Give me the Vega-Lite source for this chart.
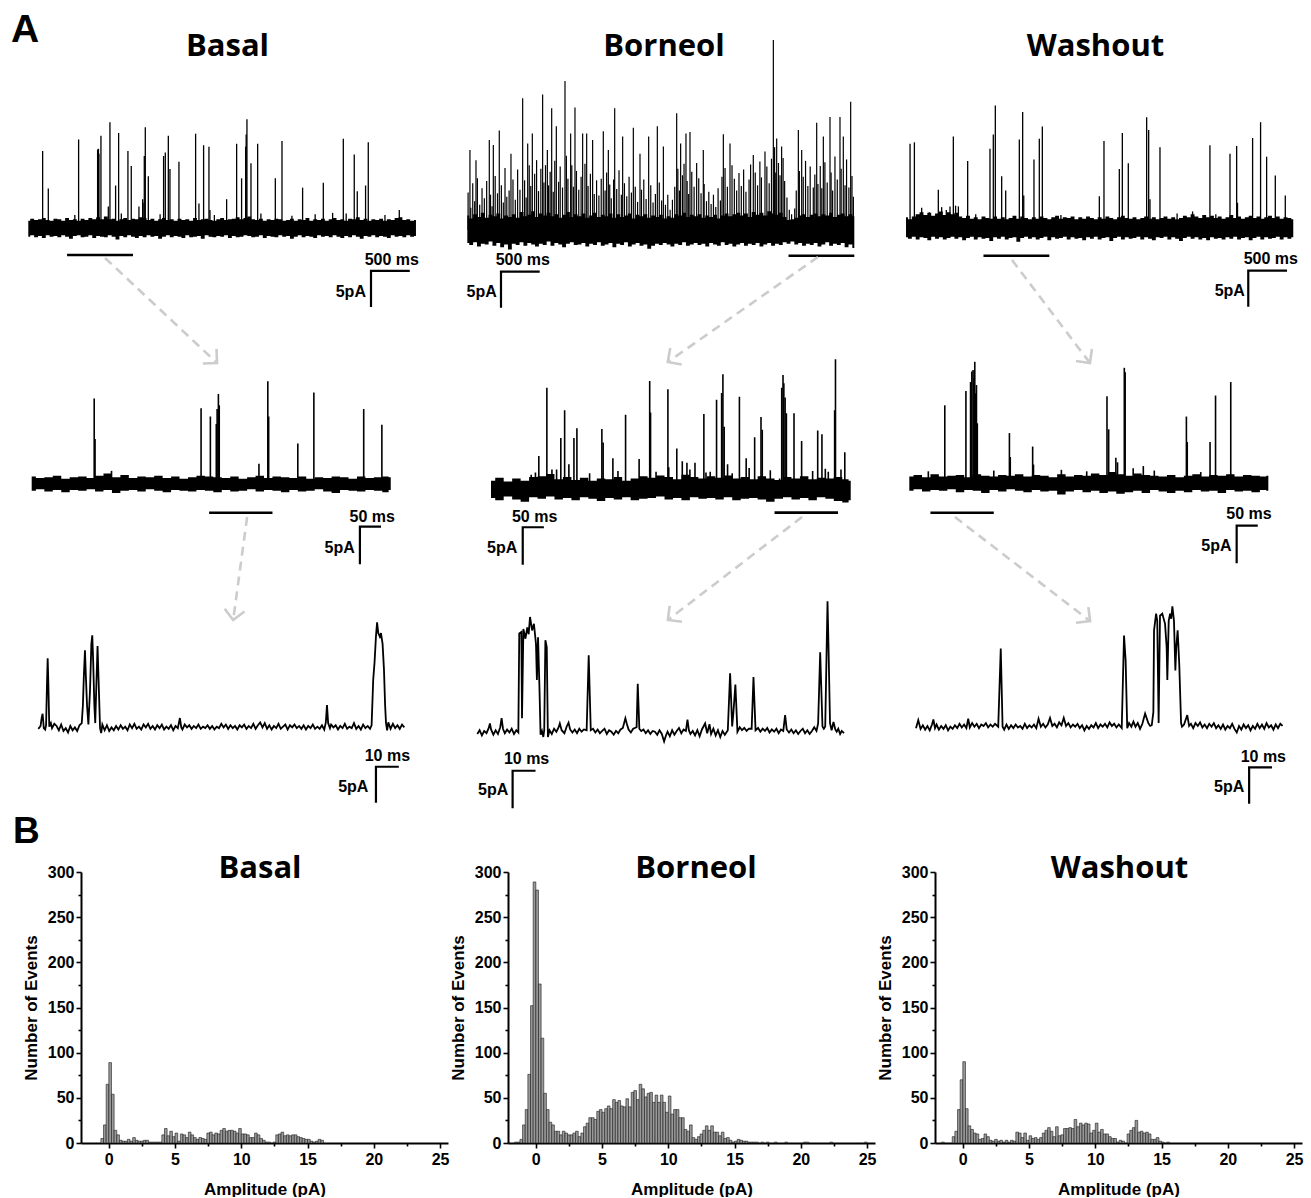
{
"$schema": "https://vega.github.io/schema/vega-lite/v6.json",
"padding": 0,
"background": "white",
"config": {
  "view": {"stroke": null},
  "axis": {"labelFont": "Liberation Sans", "labelFontWeight": "bold", "labelFontSize": 16, "labelColor": "black", "titleFont": "Liberation Sans", "titleFontWeight": "bold", "titleFontSize": 17, "titleColor": "black", "domainColor": "black", "domainWidth": 2, "tickColor": "black", "tickWidth": 1.6, "tickSize": 5, "grid": false}
},
"title": {"text": "A", "anchor": "start", "frame": "group", "font": "Liberation Sans", "fontSize": 39, "fontWeight": "bold", "color": "black", "offset": -50, "dx": 11},
"datasets": {
"b1b": [{"t":0,"l":-1.2,"h":1.0},{"t":50,"l":-1.0,"h":1.3},{"t":100,"l":-1.3,"h":1.1},{"t":150,"l":-1.1,"h":1.2},{"t":200,"l":-1.4,"h":1.4},{"t":250,"l":-1.0,"h":1.1},{"t":300,"l":-1.2,"h":1.0},{"t":350,"l":-1.1,"h":1.3},{"t":400,"l":-1.3,"h":1.2},{"t":450,"l":-1.0,"h":1.0},{"t":500,"l":-1.2,"h":1.4},{"t":550,"l":-1.5,"h":1.1},{"t":600,"l":-1.1,"h":1.2},{"t":650,"l":-1.0,"h":1.0},{"t":700,"l":-1.3,"h":1.3},{"t":750,"l":-1.2,"h":1.1},{"t":800,"l":-1.0,"h":1.4},{"t":850,"l":-1.4,"h":1.2},{"t":900,"l":-1.1,"h":1.5},{"t":950,"l":-1.2,"h":1.2},{"t":1000,"l":-1.3,"h":1.6},{"t":1050,"l":-1.0,"h":1.2},{"t":1100,"l":-1.2,"h":1.3},{"t":1150,"l":-1.6,"h":1.0},{"t":1200,"l":-1.1,"h":1.2},{"t":1250,"l":-1.3,"h":1.4},{"t":1300,"l":-1.0,"h":1.1},{"t":1350,"l":-1.2,"h":1.3},{"t":1400,"l":-1.4,"h":1.2},{"t":1450,"l":-1.1,"h":1.5},{"t":1500,"l":-1.3,"h":1.4},{"t":1550,"l":-1.0,"h":1.1},{"t":1600,"l":-1.2,"h":1.3},{"t":1650,"l":-1.1,"h":1.0},{"t":1700,"l":-1.5,"h":1.2},{"t":1750,"l":-1.2,"h":1.4},{"t":1800,"l":-1.0,"h":1.1},{"t":1850,"l":-1.3,"h":1.2},{"t":1900,"l":-1.1,"h":1.0},{"t":1950,"l":-1.2,"h":1.3},{"t":2000,"l":-1.4,"h":1.1},{"t":2050,"l":-1.0,"h":1.2},{"t":2100,"l":-1.3,"h":1.0},{"t":2150,"l":-1.2,"h":1.4},{"t":2200,"l":-1.1,"h":1.1},{"t":2250,"l":-1.5,"h":1.2},{"t":2300,"l":-1.0,"h":1.3},{"t":2350,"l":-1.2,"h":1.1},{"t":2400,"l":-1.3,"h":1.0},{"t":2450,"l":-1.1,"h":1.2},{"t":2500,"l":-1.2,"h":1.4},{"t":2550,"l":-1.0,"h":1.1},{"t":2600,"l":-1.4,"h":1.2},{"t":2650,"l":-1.1,"h":1.3},{"t":2700,"l":-1.3,"h":1.5},{"t":2750,"l":-1.2,"h":1.2},{"t":2800,"l":-1.0,"h":1.4},{"t":2850,"l":-1.1,"h":1.6},{"t":2900,"l":-1.3,"h":1.2},{"t":2950,"l":-1.2,"h":1.1},{"t":3000,"l":-1.0,"h":1.3},{"t":3050,"l":-1.4,"h":1.0},{"t":3100,"l":-1.1,"h":1.2},{"t":3150,"l":-1.2,"h":1.1},{"t":3200,"l":-1.3,"h":1.3},{"t":3250,"l":-1.0,"h":1.2},{"t":3300,"l":-1.2,"h":1.0},{"t":3350,"l":-1.1,"h":1.1},{"t":3400,"l":-1.5,"h":1.3},{"t":3450,"l":-1.2,"h":1.0},{"t":3500,"l":-1.0,"h":1.2},{"t":3550,"l":-1.3,"h":1.1},{"t":3600,"l":-1.1,"h":1.4},{"t":3650,"l":-1.2,"h":1.0},{"t":3700,"l":-1.4,"h":1.2},{"t":3750,"l":-1.0,"h":1.1},{"t":3800,"l":-1.2,"h":1.3},{"t":3850,"l":-1.1,"h":1.0},{"t":3900,"l":-1.3,"h":1.2},{"t":3950,"l":-1.0,"h":1.4},{"t":4000,"l":-1.2,"h":1.1},{"t":4050,"l":-1.4,"h":1.2},{"t":4100,"l":-1.1,"h":1.0},{"t":4150,"l":-1.3,"h":1.3},{"t":4200,"l":-1.0,"h":1.2},{"t":4250,"l":-1.2,"h":1.5},{"t":4300,"l":-1.5,"h":1.1},{"t":4350,"l":-1.1,"h":1.3},{"t":4400,"l":-1.2,"h":1.0},{"t":4450,"l":-1.0,"h":1.2},{"t":4500,"l":-1.3,"h":1.1},{"t":4550,"l":-1.1,"h":1.3},{"t":4600,"l":-1.2,"h":1.0},{"t":4650,"l":-1.4,"h":1.2},{"t":4700,"l":-1.0,"h":1.1},{"t":4750,"l":-1.2,"h":1.4},{"t":4800,"l":-1.1,"h":1.5},{"t":4850,"l":-1.3,"h":1.1},{"t":4900,"l":-1.0,"h":1.2},{"t":4950,"l":-1.2,"h":1.0},{"t":5000,"l":-1.1,"h":1.1}],
"b1s": [{"t":185,"a":10.7},{"t":258,"a":5.5},{"t":600,"a":1.8},{"t":649,"a":12.3},{"t":894,"a":10.9},{"t":900,"a":9.5},{"t":905,"a":11.0},{"t":911,"a":10.3},{"t":937,"a":12.8},{"t":1032,"a":3.0},{"t":1053,"a":14.7},{"t":1126,"a":5.9},{"t":1165,"a":13.2},{"t":1200,"a":2.0},{"t":1285,"a":10.7},{"t":1328,"a":8.6},{"t":1427,"a":3.0},{"t":1475,"a":4.0},{"t":1480,"a":3.5},{"t":1496,"a":10.0},{"t":1509,"a":14.0},{"t":1548,"a":7.2},{"t":1700,"a":1.9},{"t":1745,"a":10.0},{"t":1767,"a":10.5},{"t":1806,"a":12.8},{"t":1827,"a":8.2},{"t":1943,"a":9.2},{"t":2158,"a":13.1},{"t":2201,"a":3.4},{"t":2261,"a":11.5},{"t":2330,"a":11.3},{"t":2343,"a":2.5},{"t":2400,"a":1.8},{"t":2558,"a":4.0},{"t":2687,"a":11.7},{"t":2751,"a":6.9},{"t":2803,"a":11.3},{"t":2810,"a":13.0},{"t":2820,"a":15.1},{"t":2872,"a":9.0},{"t":2958,"a":11.7},{"t":3000,"a":2.0},{"t":3186,"a":6.9},{"t":3272,"a":12.1},{"t":3400,"a":1.7},{"t":3538,"a":5.6},{"t":3700,"a":1.9},{"t":3805,"a":6.3},{"t":3925,"a":2.1},{"t":4063,"a":12.4},{"t":4100,"a":2.0},{"t":4204,"a":10.2},{"t":4243,"a":5.1},{"t":4350,"a":5.9},{"t":4385,"a":11.9},{"t":4600,"a":1.8},{"t":4785,"a":2.5}],
"b1n": [{"k":"seg","t":500,"t2":1350,"v":-3.75},{"k":"L","t":4920,"v":-5.97,"o":1},{"k":"L","t":4420,"v":-5.97,"o":2},{"k":"L","t":4420,"v":-10.97,"o":3},{"k":"lab","t":5039,"v":-5.14,"s":"500 ms"},{"k":"lab","t":4355,"v":-9.58,"s":"5pA"},{"k":"arr","t":990,"v":-4.17,"o":1},{"k":"arr","t":2434,"v":-18.75,"o":2}],
"o1b": [{"t":0,"l":-1.8,"h":2.0},{"t":50,"l":-2.1,"h":1.6},{"t":100,"l":-1.7,"h":2.2},{"t":150,"l":-2.3,"h":1.8},{"t":200,"l":-1.9,"h":2.4},{"t":250,"l":-2.0,"h":1.7},{"t":300,"l":-1.6,"h":2.1},{"t":350,"l":-2.2,"h":1.9},{"t":400,"l":-1.8,"h":2.3},{"t":450,"l":-2.4,"h":1.6},{"t":500,"l":-2.0,"h":2.0},{"t":550,"l":-2.7,"h":1.8},{"t":600,"l":-1.9,"h":2.2},{"t":650,"l":-2.1,"h":1.7},{"t":700,"l":-1.7,"h":2.5},{"t":750,"l":-2.2,"h":1.9},{"t":800,"l":-1.8,"h":2.1},{"t":850,"l":-2.0,"h":2.6},{"t":900,"l":-2.3,"h":1.8},{"t":950,"l":-1.9,"h":2.3},{"t":1000,"l":-2.1,"h":2.0},{"t":1050,"l":-1.6,"h":2.4},{"t":1100,"l":-2.2,"h":1.9},{"t":1150,"l":-1.8,"h":2.2},{"t":1200,"l":-2.0,"h":1.7},{"t":1250,"l":-2.4,"h":2.1},{"t":1300,"l":-1.9,"h":2.5},{"t":1350,"l":-1.7,"h":1.8},{"t":1400,"l":-2.1,"h":2.2},{"t":1450,"l":-2.0,"h":1.9},{"t":1500,"l":-1.8,"h":2.3},{"t":1550,"l":-2.3,"h":1.7},{"t":1600,"l":-1.9,"h":2.0},{"t":1650,"l":-2.1,"h":2.4},{"t":1700,"l":-1.7,"h":1.8},{"t":1750,"l":-2.2,"h":2.1},{"t":1800,"l":-2.0,"h":1.9},{"t":1850,"l":-1.8,"h":2.3},{"t":1900,"l":-2.4,"h":1.7},{"t":1950,"l":-1.9,"h":2.2},{"t":2000,"l":-2.1,"h":1.8},{"t":2050,"l":-1.7,"h":2.0},{"t":2100,"l":-2.3,"h":2.3},{"t":2150,"l":-2.0,"h":1.6},{"t":2200,"l":-1.8,"h":2.1},{"t":2250,"l":-2.2,"h":1.9},{"t":2300,"l":-2.0,"h":2.2},{"t":2350,"l":-2.6,"h":1.7},{"t":2400,"l":-2.2,"h":2.0},{"t":2450,"l":-1.9,"h":1.8},{"t":2500,"l":-2.1,"h":2.1},{"t":2550,"l":-1.8,"h":1.6},{"t":2600,"l":-2.0,"h":1.9},{"t":2650,"l":-2.3,"h":1.7},{"t":2700,"l":-1.9,"h":2.2},{"t":2750,"l":-2.1,"h":2.0},{"t":2800,"l":-1.7,"h":2.4},{"t":2850,"l":-2.2,"h":1.8},{"t":2900,"l":-2.0,"h":2.1},{"t":2950,"l":-1.8,"h":1.9},{"t":3000,"l":-2.1,"h":2.2},{"t":3050,"l":-1.9,"h":1.7},{"t":3100,"l":-2.3,"h":2.0},{"t":3150,"l":-1.8,"h":1.8},{"t":3200,"l":-2.0,"h":2.1},{"t":3250,"l":-2.2,"h":1.6},{"t":3300,"l":-1.7,"h":2.0},{"t":3350,"l":-2.1,"h":2.3},{"t":3400,"l":-1.9,"h":1.9},{"t":3450,"l":-2.3,"h":2.2},{"t":3500,"l":-2.0,"h":2.4},{"t":3550,"l":-1.8,"h":2.0},{"t":3600,"l":-2.2,"h":2.3},{"t":3650,"l":-1.9,"h":1.8},{"t":3700,"l":-2.1,"h":2.5},{"t":3750,"l":-1.8,"h":2.1},{"t":3800,"l":-2.3,"h":2.4},{"t":3850,"l":-2.0,"h":2.0},{"t":3900,"l":-1.8,"h":2.6},{"t":3950,"l":-2.2,"h":2.3},{"t":4000,"l":-1.9,"h":2.1},{"t":4050,"l":-2.1,"h":2.4},{"t":4100,"l":-1.7,"h":1.8},{"t":4150,"l":-1.9,"h":1.4},{"t":4200,"l":-1.6,"h":1.5},{"t":4250,"l":-2.0,"h":1.7},{"t":4300,"l":-1.8,"h":2.0},{"t":4350,"l":-2.2,"h":2.2},{"t":4400,"l":-1.9,"h":1.8},{"t":4450,"l":-2.1,"h":2.1},{"t":4500,"l":-1.8,"h":2.3},{"t":4550,"l":-2.3,"h":1.9},{"t":4600,"l":-2.0,"h":2.2},{"t":4650,"l":-1.7,"h":2.0},{"t":4700,"l":-2.2,"h":2.4},{"t":4750,"l":-1.9,"h":1.8},{"t":4800,"l":-2.1,"h":2.1},{"t":4850,"l":-1.8,"h":2.3},{"t":4900,"l":-2.4,"h":1.9},{"t":4950,"l":-2.0,"h":2.2},{"t":5000,"l":-2.5,"h":1.9}],
"o1s": [{"t":34,"a":11.1},{"t":112,"a":9.7},{"t":284,"a":12.5},{"t":336,"a":11.8},{"t":413,"a":13.8},{"t":487,"a":8.6},{"t":564,"a":10.6},{"t":715,"a":18.3},{"t":780,"a":12.0},{"t":840,"a":13.4},{"t":973,"a":18.8},{"t":1034,"a":11.1},{"t":1090,"a":16.9},{"t":1150,"a":14.4},{"t":1262,"a":20.7},{"t":1335,"a":13.4},{"t":1391,"a":17.0},{"t":1490,"a":13.4},{"t":1542,"a":13.4},{"t":1619,"a":12.5},{"t":1757,"a":13.7},{"t":1822,"a":11.1},{"t":1904,"a":16.9},{"t":2007,"a":13.0},{"t":2145,"a":14.2},{"t":2231,"a":10.6},{"t":2343,"a":13.0},{"t":2455,"a":14.4},{"t":2533,"a":11.6},{"t":2705,"a":16.2},{"t":2756,"a":12.0},{"t":2825,"a":13.4},{"t":2877,"a":13.6},{"t":2963,"a":9.3},{"t":3049,"a":11.1},{"t":3308,"a":13.3},{"t":3394,"a":12.0},{"t":3695,"a":10.4},{"t":3846,"a":10.9},{"t":3954,"a":26.4},{"t":3997,"a":12.7},{"t":4061,"a":11.6},{"t":4277,"a":13.9},{"t":4320,"a":11.1},{"t":4514,"a":14.9},{"t":4600,"a":13.0},{"t":4686,"a":15.7},{"t":4815,"a":15.7},{"t":4858,"a":13.0},{"t":4953,"a":17.8},{"t":4988,"a":4.6},
{"t":10,"a":5.2},{"t":45,"a":3.1},{"t":70,"a":6.5},{"t":95,"a":4.0},{"t":130,"a":7.2},{"t":160,"a":3.5},{"t":190,"a":5.8},{"t":220,"a":4.4},{"t":250,"a":6.8},{"t":300,"a":4.9},{"t":320,"a":3.3},{"t":360,"a":7.5},{"t":390,"a":5.1},{"t":440,"a":6.2},{"t":465,"a":3.8},{"t":510,"a":4.6},{"t":540,"a":5.5},{"t":590,"a":7.0},{"t":620,"a":4.2},{"t":650,"a":8.4},{"t":680,"a":5.6},{"t":740,"a":6.9},{"t":760,"a":4.5},{"t":800,"a":9.0},{"t":820,"a":6.1},{"t":870,"a":7.8},{"t":895,"a":9.7},{"t":920,"a":5.4},{"t":950,"a":8.5},{"t":990,"a":6.6},{"t":1010,"a":9.0},{"t":1050,"a":6.2},{"t":1070,"a":8.1},{"t":1110,"a":5.3},{"t":1130,"a":9.6},{"t":1180,"a":6.7},{"t":1200,"a":8.8},{"t":1230,"a":5.9},{"t":1280,"a":10.3},{"t":1300,"a":7.1},{"t":1350,"a":9.0},{"t":1370,"a":6.0},{"t":1410,"a":8.2},{"t":1440,"a":5.6},{"t":1470,"a":7.4},{"t":1520,"a":9.2},{"t":1560,"a":6.1},{"t":1590,"a":7.8},{"t":1640,"a":5.0},{"t":1670,"a":6.9},{"t":1700,"a":4.8},{"t":1730,"a":7.1},{"t":1780,"a":5.5},{"t":1800,"a":8.0},{"t":1840,"a":6.3},{"t":1860,"a":4.4},{"t":1890,"a":7.0},{"t":1930,"a":5.7},{"t":1960,"a":8.3},{"t":1990,"a":4.9},{"t":2030,"a":6.5},{"t":2060,"a":4.7},{"t":2090,"a":7.4},{"t":2120,"a":5.2},{"t":2170,"a":6.0},{"t":2200,"a":3.9},{"t":2250,"a":5.6},{"t":2280,"a":7.0},{"t":2310,"a":4.3},{"t":2370,"a":6.2},{"t":2400,"a":3.8},{"t":2430,"a":5.0},{"t":2480,"a":6.6},{"t":2510,"a":4.1},{"t":2560,"a":3.5},{"t":2590,"a":4.9},{"t":2620,"a":2.8},{"t":2650,"a":4.2},{"t":2680,"a":6.0},{"t":2720,"a":8.5},{"t":2740,"a":5.5},{"t":2780,"a":7.6},{"t":2800,"a":9.2},{"t":2840,"a":6.8},{"t":2860,"a":5.0},{"t":2900,"a":8.1},{"t":2930,"a":6.0},{"t":2990,"a":7.2},{"t":3020,"a":5.1},{"t":3060,"a":6.4},{"t":3090,"a":4.0},{"t":3120,"a":5.3},{"t":3150,"a":3.6},{"t":3180,"a":4.9},{"t":3210,"a":3.2},{"t":3240,"a":5.8},{"t":3270,"a":4.1},{"t":3290,"a":7.4},{"t":3330,"a":8.6},{"t":3360,"a":6.0},{"t":3420,"a":9.0},{"t":3450,"a":7.1},{"t":3480,"a":5.5},{"t":3510,"a":7.9},{"t":3540,"a":6.1},{"t":3570,"a":8.4},{"t":3600,"a":5.3},{"t":3640,"a":7.0},{"t":3660,"a":9.1},{"t":3720,"a":8.0},{"t":3750,"a":6.2},{"t":3780,"a":9.5},{"t":3800,"a":7.3},{"t":3870,"a":8.8},{"t":3900,"a":6.5},{"t":3930,"a":9.9},{"t":3970,"a":11.5},{"t":3985,"a":8.0},{"t":4020,"a":9.3},{"t":4040,"a":7.6},{"t":4080,"a":10.0},{"t":4100,"a":6.8},{"t":4130,"a":4.5},{"t":4160,"a":2.8},{"t":4190,"a":2.2},{"t":4230,"a":3.0},{"t":4250,"a":5.5},{"t":4290,"a":8.2},{"t":4340,"a":7.4},{"t":4370,"a":9.6},{"t":4400,"a":6.1},{"t":4430,"a":8.8},{"t":4470,"a":5.9},{"t":4490,"a":7.7},{"t":4530,"a":6.4},{"t":4560,"a":8.9},{"t":4580,"a":5.8},{"t":4620,"a":9.4},{"t":4650,"a":6.6},{"t":4700,"a":8.0},{"t":4720,"a":5.5},{"t":4750,"a":10.2},{"t":4780,"a":7.0},{"t":4830,"a":8.5},{"t":4880,"a":6.2},{"t":4900,"a":9.8},{"t":4930,"a":5.9},{"t":4970,"a":7.5}],
"o1n": [{"k":"seg","t":4150,"t2":5000,"v":-3.57},{"k":"L","t":935,"v":-5.79,"o":1},{"k":"L","t":435,"v":-5.79,"o":2},{"k":"L","t":435,"v":-10.79,"o":3},{"k":"lab","t":1068,"v":-4.86,"s":"500 ms"},{"k":"lab","t":380,"v":-9.26,"s":"5pA"},{"k":"arr","t":4531,"v":-3.75,"o":1},{"k":"arr","t":2590,"v":-18.33,"o":2}],
"w1b": [{"t":0,"l":-1.3,"h":1.5},{"t":50,"l":-1.5,"h":1.2},{"t":100,"l":-1.2,"h":1.6},{"t":150,"l":-1.6,"h":1.9},{"t":200,"l":-1.3,"h":2.2},{"t":250,"l":-1.4,"h":1.8},{"t":300,"l":-1.7,"h":2.1},{"t":350,"l":-1.2,"h":1.7},{"t":400,"l":-1.5,"h":2.0},{"t":450,"l":-1.3,"h":2.3},{"t":500,"l":-1.6,"h":1.8},{"t":550,"l":-1.4,"h":2.2},{"t":600,"l":-1.2,"h":1.9},{"t":650,"l":-1.5,"h":2.1},{"t":700,"l":-1.3,"h":1.6},{"t":750,"l":-1.7,"h":1.4},{"t":800,"l":-1.4,"h":1.7},{"t":850,"l":-1.2,"h":1.3},{"t":900,"l":-1.6,"h":1.5},{"t":950,"l":-1.3,"h":1.2},{"t":1000,"l":-1.5,"h":1.6},{"t":1050,"l":-1.4,"h":1.4},{"t":1100,"l":-1.8,"h":1.3},{"t":1150,"l":-1.3,"h":1.6},{"t":1200,"l":-1.5,"h":1.3},{"t":1250,"l":-1.2,"h":1.5},{"t":1300,"l":-1.6,"h":1.2},{"t":1350,"l":-1.4,"h":1.4},{"t":1400,"l":-1.3,"h":1.7},{"t":1450,"l":-1.9,"h":1.3},{"t":1500,"l":-1.4,"h":1.6},{"t":1550,"l":-1.2,"h":1.4},{"t":1600,"l":-1.5,"h":1.2},{"t":1650,"l":-1.3,"h":1.5},{"t":1700,"l":-1.6,"h":1.3},{"t":1750,"l":-1.4,"h":1.6},{"t":1800,"l":-1.2,"h":1.4},{"t":1850,"l":-1.7,"h":1.2},{"t":1900,"l":-1.3,"h":1.5},{"t":1950,"l":-1.5,"h":1.7},{"t":2000,"l":-1.4,"h":1.3},{"t":2050,"l":-1.2,"h":1.5},{"t":2100,"l":-1.6,"h":1.4},{"t":2150,"l":-1.3,"h":1.6},{"t":2200,"l":-1.5,"h":1.2},{"t":2250,"l":-1.4,"h":1.5},{"t":2300,"l":-1.7,"h":1.3},{"t":2350,"l":-1.3,"h":1.6},{"t":2400,"l":-1.5,"h":1.4},{"t":2450,"l":-1.2,"h":1.2},{"t":2500,"l":-1.6,"h":1.5},{"t":2550,"l":-1.4,"h":1.3},{"t":2600,"l":-1.3,"h":1.6},{"t":2650,"l":-1.8,"h":1.4},{"t":2700,"l":-1.4,"h":1.2},{"t":2750,"l":-1.2,"h":1.5},{"t":2800,"l":-1.6,"h":1.7},{"t":2850,"l":-1.3,"h":1.4},{"t":2900,"l":-1.5,"h":1.3},{"t":2950,"l":-1.4,"h":1.5},{"t":3000,"l":-1.2,"h":1.2},{"t":3050,"l":-1.6,"h":1.4},{"t":3100,"l":-1.3,"h":1.6},{"t":3150,"l":-1.5,"h":1.3},{"t":3200,"l":-1.7,"h":1.5},{"t":3250,"l":-1.3,"h":1.2},{"t":3300,"l":-1.4,"h":1.4},{"t":3350,"l":-1.2,"h":1.6},{"t":3400,"l":-1.6,"h":1.3},{"t":3450,"l":-1.3,"h":1.5},{"t":3500,"l":-1.5,"h":1.2},{"t":3550,"l":-1.8,"h":1.4},{"t":3600,"l":-1.4,"h":1.7},{"t":3650,"l":-1.2,"h":1.5},{"t":3700,"l":-1.5,"h":1.9},{"t":3750,"l":-1.3,"h":1.6},{"t":3800,"l":-1.6,"h":1.4},{"t":3850,"l":-1.4,"h":1.8},{"t":3900,"l":-1.7,"h":1.5},{"t":3950,"l":-1.3,"h":1.7},{"t":4000,"l":-1.5,"h":1.4},{"t":4050,"l":-1.4,"h":1.6},{"t":4100,"l":-1.6,"h":1.3},{"t":4150,"l":-1.3,"h":1.5},{"t":4200,"l":-1.5,"h":1.8},{"t":4250,"l":-1.2,"h":1.4},{"t":4300,"l":-1.6,"h":1.6},{"t":4350,"l":-1.4,"h":1.3},{"t":4400,"l":-1.3,"h":1.5},{"t":4450,"l":-1.7,"h":1.7},{"t":4500,"l":-1.4,"h":1.4},{"t":4550,"l":-1.2,"h":1.6},{"t":4600,"l":-1.6,"h":1.3},{"t":4650,"l":-1.3,"h":1.5},{"t":4700,"l":-1.5,"h":1.7},{"t":4750,"l":-1.4,"h":1.4},{"t":4800,"l":-1.2,"h":1.6},{"t":4850,"l":-1.6,"h":1.3},{"t":4900,"l":-1.3,"h":1.5},{"t":4950,"l":-1.5,"h":1.4},{"t":5000,"l":-1.3,"h":1.2}],
"w1s": [{"t":52,"a":11.7},{"t":108,"a":11.9},{"t":202,"a":2.8},{"t":300,"a":2.2},{"t":417,"a":5.3},{"t":460,"a":2.9},{"t":520,"a":2.5},{"t":568,"a":3.0},{"t":611,"a":12.7},{"t":640,"a":3.1},{"t":676,"a":3.0},{"t":796,"a":9.3},{"t":900,"a":1.9},{"t":1084,"a":11.0},{"t":1127,"a":13.0},{"t":1153,"a":17.0},{"t":1235,"a":7.2},{"t":1287,"a":5.2},{"t":1463,"a":12.3},{"t":1506,"a":16.1},{"t":1520,"a":4.5},{"t":1652,"a":9.5},{"t":1721,"a":12.4},{"t":1760,"a":14.1},{"t":2000,"a":1.8},{"t":2496,"a":4.4},{"t":2556,"a":12.1},{"t":2754,"a":8.2},{"t":2793,"a":13.2},{"t":2870,"a":9.0},{"t":3107,"a":15.4},{"t":3133,"a":13.6},{"t":3150,"a":4.0},{"t":3279,"a":11.2},{"t":3500,"a":2.0},{"t":3700,"a":2.3},{"t":3924,"a":11.5},{"t":4000,"a":1.9},{"t":4183,"a":10.3},{"t":4269,"a":11.4},{"t":4280,"a":3.5},{"t":4475,"a":12.5},{"t":4578,"a":14.7},{"t":4656,"a":9.9},{"t":4768,"a":7.3},{"t":4897,"a":4.5}],
"w1n": [{"k":"seg","t":1000,"t2":1850,"v":-3.85},{"k":"L","t":4919,"v":-5.93,"o":1},{"k":"L","t":4419,"v":-5.93,"o":2},{"k":"L","t":4419,"v":-10.93,"o":3},{"k":"lab","t":5061,"v":-5.04,"s":"500 ms"},{"k":"lab","t":4376,"v":-9.44,"s":"5pA"},{"k":"arr","t":1368,"v":-4.44,"o":1},{"k":"arr","t":2375,"v":-18.75,"o":2}],
"b2b": [{"t":0,"l":-0.9,"h":1.0},{"t":20,"l":-0.7,"h":0.8},{"t":40,"l":-1.0,"h":0.9},{"t":60,"l":-0.8,"h":1.1},{"t":80,"l":-1.1,"h":0.7},{"t":100,"l":-0.8,"h":0.9},{"t":120,"l":-0.9,"h":1.0},{"t":140,"l":-0.7,"h":0.8},{"t":160,"l":-1.0,"h":1.1},{"t":180,"l":-0.8,"h":1.4},{"t":200,"l":-1.2,"h":0.9},{"t":220,"l":-0.9,"h":1.2},{"t":240,"l":-0.8,"h":0.8},{"t":260,"l":-1.0,"h":1.0},{"t":280,"l":-0.7,"h":0.9},{"t":300,"l":-0.9,"h":1.1},{"t":320,"l":-1.1,"h":0.8},{"t":340,"l":-0.8,"h":1.0},{"t":360,"l":-0.9,"h":0.7},{"t":380,"l":-1.0,"h":0.9},{"t":400,"l":-0.8,"h":1.1},{"t":420,"l":-0.9,"h":1.0},{"t":440,"l":-1.1,"h":0.9},{"t":460,"l":-0.8,"h":0.8},{"t":480,"l":-1.0,"h":1.0},{"t":500,"l":-0.9,"h":0.7},{"t":520,"l":-0.7,"h":0.9},{"t":540,"l":-1.0,"h":1.1},{"t":560,"l":-0.8,"h":0.8},{"t":580,"l":-0.9,"h":1.0},{"t":600,"l":-1.1,"h":0.9},{"t":620,"l":-0.8,"h":0.8},{"t":640,"l":-1.0,"h":1.0},{"t":660,"l":-0.9,"h":0.7},{"t":680,"l":-0.7,"h":0.9},{"t":700,"l":-1.0,"h":0.8},{"t":720,"l":-1.2,"h":1.0},{"t":740,"l":-0.8,"h":0.9},{"t":760,"l":-0.9,"h":0.7},{"t":780,"l":-1.0,"h":1.0},{"t":800,"l":-0.8,"h":0.8},{"t":820,"l":-0.9,"h":0.9},{"t":840,"l":-1.1,"h":1.0},{"t":850,"l":-0.8,"h":0.9}],
"b2s": [{"t":148,"a":11.4},{"t":150,"a":6.0},{"t":189,"a":1.75},{"t":401,"a":10.1},{"t":423,"a":9.0},{"t":437,"a":8.0},{"t":439,"a":10.0},{"t":442,"a":12.0},{"t":444,"a":10.5},{"t":538,"a":2.7},{"t":559,"a":13.7},{"t":561,"a":9.0},{"t":630,"a":5.4},{"t":668,"a":12.2},{"t":786,"a":10.0},{"t":829,"a":7.9}],
"b2n": [{"k":"seg","t":420,"t2":570,"v":-3.83},{"k":"L","t":827,"v":-5.69,"o":1},{"k":"L","t":777,"v":-5.69,"o":2},{"k":"L","t":777,"v":-10.69,"o":3},{"k":"lab","t":860,"v":-5.03,"s":"50 ms"},{"k":"lab","t":765,"v":-9.24,"s":"5pA"},{"k":"arr","t":510,"v":-4.4,"o":1},{"k":"arr","t":477,"v":-18.13,"o":2}],
"o2b": [{"t":0,"l":-1.3,"h":1.0},{"t":20,"l":-1.6,"h":1.4},{"t":40,"l":-1.1,"h":0.9},{"t":60,"l":-1.5,"h":1.3},{"t":80,"l":-1.8,"h":1.0},{"t":100,"l":-1.2,"h":1.5},{"t":120,"l":-1.4,"h":1.6},{"t":140,"l":-1.1,"h":1.9},{"t":160,"l":-1.5,"h":1.2},{"t":180,"l":-1.3,"h":1.5},{"t":200,"l":-1.6,"h":1.1},{"t":220,"l":-1.2,"h":1.4},{"t":240,"l":-1.4,"h":1.0},{"t":260,"l":-1.7,"h":1.3},{"t":280,"l":-1.3,"h":1.2},{"t":300,"l":-1.5,"h":1.5},{"t":320,"l":-1.2,"h":1.0},{"t":340,"l":-1.6,"h":1.3},{"t":360,"l":-1.4,"h":1.6},{"t":380,"l":-1.3,"h":1.4},{"t":400,"l":-1.1,"h":1.7},{"t":420,"l":-1.5,"h":1.5},{"t":440,"l":-1.3,"h":1.2},{"t":460,"l":-1.6,"h":1.8},{"t":480,"l":-1.2,"h":1.5},{"t":500,"l":-1.4,"h":1.3},{"t":520,"l":-1.3,"h":1.6},{"t":540,"l":-1.5,"h":1.4},{"t":560,"l":-1.2,"h":1.7},{"t":580,"l":-1.6,"h":1.3},{"t":600,"l":-1.4,"h":1.5},{"t":620,"l":-1.3,"h":1.2},{"t":640,"l":-1.5,"h":1.6},{"t":660,"l":-1.8,"h":1.3},{"t":680,"l":-1.4,"h":1.1},{"t":700,"l":-1.2,"h":1.5},{"t":720,"l":-1.5,"h":1.3},{"t":740,"l":-1.3,"h":1.6},{"t":760,"l":-1.6,"h":1.2},{"t":780,"l":-1.2,"h":1.4},{"t":800,"l":-1.4,"h":1.3},{"t":820,"l":-1.7,"h":1.5},{"t":840,"l":-1.9,"h":1.2},{"t":850,"l":-1.6,"h":1.0}],
"o2s": [{"t":95,"a":1.8},{"t":105,"a":2.1},{"t":113,"a":4.3},{"t":132,"a":13.4},{"t":144,"a":2.5},{"t":155,"a":2.5},{"t":165,"a":6.7},{"t":174,"a":10.4},{"t":184,"a":3.2},{"t":196,"a":6.7},{"t":203,"a":8.0},{"t":233,"a":2.0},{"t":262,"a":7.9},{"t":265,"a":6.1},{"t":288,"a":4.0},{"t":300,"a":2.3},{"t":318,"a":9.8},{"t":350,"a":3.9},{"t":375,"a":14.3},{"t":377,"a":10.1},{"t":390,"a":2.2},{"t":418,"a":13.2},{"t":420,"a":2.8},{"t":439,"a":5.3},{"t":452,"a":3.6},{"t":463,"a":3.4},{"t":470,"a":2.5},{"t":482,"a":3.4},{"t":503,"a":9.9},{"t":508,"a":2.1},{"t":518,"a":2.2},{"t":533,"a":11.8},{"t":545,"a":12.7},{"t":548,"a":15.2},{"t":551,"a":8.2},{"t":559,"a":3.2},{"t":570,"a":2.0},{"t":587,"a":12.2},{"t":603,"a":4.0},{"t":610,"a":2.7},{"t":623,"a":6.8},{"t":638,"a":9.5},{"t":641,"a":7.8},{"t":660,"a":2.4},{"t":682,"a":1.3},{"t":687,"a":13.4},{"t":690,"a":15.1},{"t":692,"a":14.0},{"t":695,"a":12.1},{"t":698,"a":10.0},{"t":716,"a":10.0},{"t":734,"a":6.3},{"t":760,"a":2.3},{"t":772,"a":7.7},{"t":782,"a":7.2},{"t":790,"a":2.6},{"t":797,"a":2.2},{"t":812,"a":10.4},{"t":814,"a":17.2},{"t":827,"a":2.5},{"t":836,"a":4.8}],
"o2n": [{"k":"seg","t":670,"t2":820,"v":-3.25},{"k":"L","t":125,"v":-5.2,"o":1},{"k":"L","t":75,"v":-5.2,"o":2},{"k":"L","t":75,"v":-10.2,"o":3},{"k":"lab","t":156.7,"v":-4.45,"s":"50 ms"},{"k":"lab","t":62,"v":-8.59,"s":"5pA"},{"k":"arr","t":735,"v":-3.83,"o":1},{"k":"arr","t":418,"v":-17.56,"o":2}],
"w2b": [{"t":0,"l":-1.0,"h":0.9},{"t":20,"l":-0.8,"h":1.1},{"t":40,"l":-1.1,"h":0.8},{"t":60,"l":-0.9,"h":1.2},{"t":80,"l":-1.0,"h":0.9},{"t":100,"l":-0.8,"h":1.0},{"t":120,"l":-1.2,"h":1.1},{"t":140,"l":-0.9,"h":0.8},{"t":160,"l":-1.0,"h":1.2},{"t":180,"l":-1.3,"h":1.0},{"t":200,"l":-0.9,"h":0.9},{"t":220,"l":-1.1,"h":1.1},{"t":240,"l":-0.8,"h":1.0},{"t":260,"l":-1.0,"h":1.2},{"t":280,"l":-1.2,"h":0.9},{"t":300,"l":-0.9,"h":1.1},{"t":320,"l":-1.1,"h":1.0},{"t":340,"l":-1.0,"h":0.8},{"t":360,"l":-1.5,"h":1.2},{"t":380,"l":-1.1,"h":0.9},{"t":400,"l":-0.9,"h":1.1},{"t":420,"l":-1.2,"h":1.0},{"t":440,"l":-1.0,"h":1.3},{"t":460,"l":-1.3,"h":1.1},{"t":480,"l":-1.1,"h":1.5},{"t":500,"l":-1.4,"h":1.2},{"t":520,"l":-1.2,"h":1.0},{"t":540,"l":-1.0,"h":1.3},{"t":560,"l":-1.3,"h":1.1},{"t":580,"l":-0.9,"h":1.0},{"t":600,"l":-1.1,"h":0.9},{"t":620,"l":-1.3,"h":1.1},{"t":640,"l":-1.0,"h":0.8},{"t":660,"l":-1.2,"h":1.0},{"t":680,"l":-0.9,"h":1.2},{"t":700,"l":-1.1,"h":0.9},{"t":720,"l":-1.0,"h":1.1},{"t":740,"l":-1.3,"h":1.0},{"t":760,"l":-0.9,"h":1.2},{"t":780,"l":-1.1,"h":0.9},{"t":800,"l":-1.0,"h":1.1},{"t":820,"l":-1.2,"h":1.0},{"t":840,"l":-0.9,"h":0.9},{"t":850,"l":-1.0,"h":1.0}],
"w2s": [{"t":45,"a":1.6},{"t":84,"a":10.4},{"t":134,"a":12.3},{"t":145,"a":13.5},{"t":148,"a":14.9},{"t":151,"a":15.1},{"t":153,"a":14.0},{"t":155,"a":16.2},{"t":157,"a":12.0},{"t":159,"a":13.1},{"t":161,"a":8.0},{"t":200,"a":1.7},{"t":237,"a":6.7},{"t":239,"a":3.5},{"t":292,"a":4.9},{"t":294,"a":2.5},{"t":360,"a":1.8},{"t":420,"a":1.6},{"t":468,"a":11.6},{"t":472,"a":7.2},{"t":489,"a":3.4},{"t":493,"a":2.8},{"t":509,"a":15.4},{"t":511,"a":14.8},{"t":530,"a":2.0},{"t":554,"a":2.3},{"t":580,"a":1.7},{"t":656,"a":8.9},{"t":658,"a":5.5},{"t":690,"a":1.5},{"t":712,"a":5.5},{"t":725,"a":11.7},{"t":761,"a":13.5}],
"w2n": [{"k":"seg","t":50,"t2":200,"v":-3.92},{"k":"L","t":825,"v":-5.65,"o":1},{"k":"L","t":775,"v":-5.65,"o":2},{"k":"L","t":775,"v":-10.65,"o":3},{"k":"lab","t":858,"v":-4.8,"s":"50 ms"},{"k":"lab","t":763,"v":-8.99,"s":"5pA"},{"k":"arr","t":108,"v":-4.5,"o":1},{"k":"arr","t":428,"v":-18.37,"o":2}],
"b3l": [{"t":0,"v":-0.3},{"t":1,"v":0.1},{"t":1.5,"v":1.3},{"t":1.9,"v":1.8},{"t":2.4,"v":-0.2},{"t":3,"v":-0.4},{"t":3.4,"v":0.2},{"t":3.8,"v":6.0},{"t":4.1,"v":9.5},{"t":4.4,"v":6.0},{"t":4.8,"v":0.0},{"t":5.5,"v":0.5},{"t":6,"v":-0.2},{"t":7,"v":0.4},{"t":8,"v":0.1},{"t":9,"v":-0.5},{"t":10,"v":0.3},{"t":11,"v":-0.6},{"t":12,"v":-0.2},{"t":13,"v":-0.8},{"t":14,"v":0.1},{"t":15,"v":-0.5},{"t":16,"v":-0.1},{"t":17,"v":-0.6},{"t":18,"v":0.2},{"t":19,"v":0.5},{"t":19.5,"v":3.0},{"t":19.9,"v":6.9},{"t":20.4,"v":10.6},{"t":20.8,"v":7.0},{"t":21.3,"v":3.0},{"t":21.9,"v":0.3},{"t":22.6,"v":5.0},{"t":23.2,"v":11.5},{"t":23.6,"v":12.7},{"t":24.0,"v":9.0},{"t":24.5,"v":3.0},{"t":24.9,"v":0.5},{"t":25.4,"v":6.0},{"t":25.9,"v":11.2},{"t":26.4,"v":6.0},{"t":27.0,"v":-0.2},{"t":27.5,"v":-0.9},{"t":28,"v":0.3},{"t":29,"v":-0.5},{"t":30,"v":0.2},{"t":31,"v":-0.6},{"t":32,"v":-0.1},{"t":33,"v":-0.5},{"t":34,"v":0.1},{"t":35,"v":-0.4},{"t":36,"v":0.2},{"t":37,"v":-0.3},{"t":38,"v":0.0},{"t":39,"v":-0.5},{"t":40,"v":0.3},{"t":41,"v":-0.2},{"t":42,"v":0.4},{"t":43,"v":-0.3},{"t":44,"v":0.0},{"t":45,"v":-0.4},{"t":46,"v":0.3},{"t":47,"v":-0.1},{"t":48,"v":0.4},{"t":49,"v":-0.3},{"t":50,"v":0.1},{"t":51,"v":-0.4},{"t":52,"v":0.2},{"t":53,"v":-0.2},{"t":54,"v":0.3},{"t":55,"v":-0.4},{"t":56,"v":0.0},{"t":57,"v":-0.3},{"t":58,"v":0.2},{"t":59,"v":-0.5},{"t":60,"v":0.1},{"t":61,"v":-0.2},{"t":61.9,"v":1.2},{"t":62.5,"v":-0.1},{"t":63,"v":-0.4},{"t":64,"v":0.3},{"t":65,"v":-0.1},{"t":66,"v":0.2},{"t":67,"v":-0.3},{"t":68,"v":0.1},{"t":69,"v":-0.2},{"t":70,"v":0.3},{"t":71,"v":-0.3},{"t":72,"v":0.0},{"t":73,"v":-0.2},{"t":74,"v":0.2},{"t":75,"v":-0.3},{"t":76,"v":0.1},{"t":77,"v":-0.4},{"t":78,"v":0.0},{"t":79,"v":-0.2},{"t":80,"v":0.4},{"t":81,"v":-0.1},{"t":82,"v":0.3},{"t":83,"v":-0.3},{"t":84,"v":0.2},{"t":85,"v":-0.2},{"t":86,"v":0.1},{"t":87,"v":-0.4},{"t":88,"v":0.2},{"t":89,"v":-0.1},{"t":90,"v":0.3},{"t":91,"v":-0.3},{"t":92,"v":0.1},{"t":93,"v":-0.2},{"t":94,"v":0.4},{"t":95,"v":-0.3},{"t":96,"v":0.2},{"t":97,"v":0.6},{"t":98,"v":-0.1},{"t":99,"v":0.5},{"t":100,"v":-0.3},{"t":101,"v":0.2},{"t":102,"v":-0.4},{"t":103,"v":0.1},{"t":104,"v":-0.2},{"t":105,"v":0.4},{"t":106,"v":-0.3},{"t":107,"v":0.0},{"t":108,"v":0.3},{"t":109,"v":-0.4},{"t":110,"v":0.2},{"t":111,"v":-0.1},{"t":112,"v":0.3},{"t":113,"v":-0.2},{"t":114,"v":0.1},{"t":115,"v":-0.3},{"t":116,"v":0.2},{"t":117,"v":-0.4},{"t":118,"v":0.1},{"t":119,"v":-0.2},{"t":120,"v":0.3},{"t":121,"v":-0.3},{"t":122,"v":0.0},{"t":123,"v":-0.3},{"t":124,"v":0.2},{"t":125,"v":-0.4},{"t":125.7,"v":0.6},{"t":126.2,"v":3.0},{"t":126.7,"v":0.5},{"t":127.5,"v":-0.2},{"t":128,"v":0.3},{"t":129,"v":-0.1},{"t":130,"v":0.2},{"t":131,"v":-0.4},{"t":132,"v":0.1},{"t":133,"v":-0.2},{"t":134,"v":0.4},{"t":135,"v":-0.3},{"t":136,"v":0.0},{"t":137,"v":-0.2},{"t":138,"v":0.5},{"t":139,"v":-0.3},{"t":140,"v":0.1},{"t":141,"v":-0.4},{"t":142,"v":0.3},{"t":143,"v":-0.2},{"t":144,"v":0.1},{"t":145,"v":-0.3},{"t":145.7,"v":0.2},{"t":146.4,"v":6.5},{"t":147.0,"v":9.0},{"t":147.6,"v":12.5},{"t":148.1,"v":14.5},{"t":148.6,"v":13.0},{"t":149.3,"v":12.5},{"t":149.8,"v":13.0},{"t":150.5,"v":11.5},{"t":151.1,"v":8.0},{"t":151.6,"v":3.0},{"t":152.0,"v":0.5},{"t":152.5,"v":-0.5},{"t":153,"v":0.6},{"t":154,"v":-0.3},{"t":155,"v":0.4},{"t":156,"v":-0.2},{"t":157,"v":0.2},{"t":158,"v":-0.3},{"t":159,"v":0.3},{"t":160,"v":-0.1}],
"b3n": [{"k":"L","t":157.6,"v":-5.56,"o":1},{"k":"L","t":147.6,"v":-5.56,"o":2},{"k":"L","t":147.6,"v":-10.56,"o":3},{"k":"lab","t":162.5,"v":-4.76,"s":"10 ms"},{"k":"lab","t":144.3,"v":-9.03,"s":"5pA"}],
"o3l": [{"t":0,"v":-0.3},{"t":1,"v":0.2},{"t":2,"v":-0.5},{"t":3,"v":0.1},{"t":4,"v":-0.2},{"t":5,"v":0.5},{"t":5.5,"v":1.1},{"t":6,"v":0.3},{"t":7,"v":-0.4},{"t":8,"v":0.2},{"t":9,"v":-0.3},{"t":10,"v":0.6},{"t":10.6,"v":1.8},{"t":11.2,"v":0.4},{"t":12,"v":-0.2},{"t":13,"v":0.3},{"t":14,"v":-0.1},{"t":15,"v":0.4},{"t":16,"v":-0.3},{"t":17,"v":0.2},{"t":17.9,"v":-0.1},{"t":18.3,"v":13.1},{"t":19.2,"v":13.3},{"t":19.5,"v":1.8},{"t":20.1,"v":13.7},{"t":21.0,"v":12.4},{"t":21.8,"v":13.9},{"t":22.4,"v":13.0},{"t":23.0,"v":15.3},{"t":23.9,"v":13.5},{"t":24.7,"v":14.4},{"t":25.6,"v":11.7},{"t":26.0,"v":6.9},{"t":26.5,"v":12.6},{"t":27.1,"v":6.0},{"t":27.6,"v":-0.4},{"t":28.2,"v":0.1},{"t":28.8,"v":-0.7},{"t":29.2,"v":0.2},{"t":29.7,"v":12.2},{"t":30.3,"v":11.3},{"t":30.8,"v":-0.7},{"t":31.5,"v":0.2},{"t":32.5,"v":-0.3},{"t":33.5,"v":0.4},{"t":34.5,"v":0.0},{"t":35.5,"v":0.6},{"t":36,"v":1.1},{"t":36.8,"v":0.2},{"t":38,"v":-0.2},{"t":39,"v":0.7},{"t":39.8,"v":1.2},{"t":40.5,"v":0.3},{"t":41.5,"v":-0.1},{"t":42.5,"v":0.3},{"t":43.5,"v":-0.2},{"t":44.5,"v":0.4},{"t":45.5,"v":0.0},{"t":46.5,"v":0.3},{"t":47.7,"v":0.2},{"t":48.6,"v":10.2},{"t":49.5,"v":0.2},{"t":50.5,"v":0.4},{"t":51.5,"v":-0.1},{"t":52.5,"v":0.3},{"t":53.5,"v":-0.2},{"t":54.5,"v":0.1},{"t":55.5,"v":0.4},{"t":56.5,"v":-0.3},{"t":57.5,"v":0.2},{"t":58.5,"v":0.0},{"t":59.5,"v":-0.4},{"t":60.5,"v":0.1},{"t":61.5,"v":-0.2},{"t":62.5,"v":0.3},{"t":63.5,"v":0.5},{"t":64.6,"v":1.8},{"t":65.2,"v":1.1},{"t":66,"v":0.3},{"t":67,"v":-0.1},{"t":68,"v":0.4},{"t":69.5,"v":0.6},{"t":70.0,"v":6.4},{"t":70.7,"v":0.4},{"t":71.5,"v":0.1},{"t":72.5,"v":0.3},{"t":73.5,"v":-0.2},{"t":74.5,"v":0.2},{"t":75.5,"v":-0.3},{"t":76.5,"v":0.1},{"t":77.5,"v":0.0},{"t":78.5,"v":-0.4},{"t":79.5,"v":0.2},{"t":80.5,"v":-0.3},{"t":81.5,"v":-1.3},{"t":82.3,"v":-0.5},{"t":83,"v":0.0},{"t":84,"v":-0.6},{"t":85,"v":0.2},{"t":86,"v":-0.4},{"t":87,"v":0.1},{"t":88,"v":0.5},{"t":89,"v":-0.2},{"t":90,"v":0.3},{"t":91,"v":0.1},{"t":91.7,"v":1.6},{"t":92.3,"v":0.2},{"t":93,"v":-0.3},{"t":94,"v":0.1},{"t":95,"v":-0.5},{"t":96,"v":0.2},{"t":97,"v":-0.6},{"t":98,"v":0.3},{"t":99.4,"v":1.1},{"t":100.3,"v":-0.2},{"t":101.3,"v":1.0},{"t":102,"v":-0.3},{"t":103,"v":0.4},{"t":104,"v":-0.5},{"t":105,"v":0.2},{"t":106,"v":-0.7},{"t":107,"v":0.1},{"t":108,"v":-0.4},{"t":109.3,"v":0.2},{"t":110.3,"v":7.8},{"t":111.2,"v":0.7},{"t":111.7,"v":2.4},{"t":112.6,"v":6.3},{"t":113.5,"v":0.0},{"t":114.5,"v":0.6},{"t":115.5,"v":0.2},{"t":116.5,"v":0.5},{"t":117.5,"v":0.1},{"t":118.5,"v":0.4},{"t":119.7,"v":0.4},{"t":120.5,"v":7.3},{"t":121.4,"v":0.2},{"t":122.5,"v":0.5},{"t":123.5,"v":0.0},{"t":124.5,"v":0.4},{"t":125.5,"v":0.1},{"t":126.5,"v":0.5},{"t":127.5,"v":-0.1},{"t":128.5,"v":0.3},{"t":129.5,"v":0.0},{"t":130.5,"v":0.4},{"t":131.5,"v":-0.2},{"t":132.5,"v":0.3},{"t":133.5,"v":0.1},{"t":134.3,"v":2.2},{"t":135,"v":0.3},{"t":136,"v":-0.1},{"t":137,"v":0.3},{"t":138,"v":-0.2},{"t":139,"v":0.2},{"t":140,"v":-0.3},{"t":141,"v":0.1},{"t":142,"v":0.4},{"t":143,"v":-0.2},{"t":144,"v":0.2},{"t":145,"v":-0.3},{"t":146,"v":0.1},{"t":147,"v":0.6},{"t":148,"v":0.1},{"t":148.7,"v":1.1},{"t":149.6,"v":10.6},{"t":150.6,"v":0.7},{"t":151.2,"v":0.4},{"t":151.8,"v":0.7},{"t":152.8,"v":17.4},{"t":153.2,"v":11.9},{"t":153.9,"v":1.1},{"t":154.6,"v":0.2},{"t":155.4,"v":1.3},{"t":156.2,"v":0.3},{"t":156.8,"v":0.0},{"t":157.5,"v":0.4},{"t":158.3,"v":-0.3},{"t":159,"v":0.1},{"t":160,"v":-0.2}],
"o3n": [{"k":"L","t":25.4,"v":-5.2,"o":1},{"k":"L","t":15.4,"v":-5.2,"o":2},{"k":"L","t":15.4,"v":-10.2,"o":3},{"k":"lab","t":31.4,"v":-4.31,"s":"10 ms"},{"k":"lab","t":13.5,"v":-8.44,"s":"5pA"}],
"w3l": [{"t":0,"v":-0.2},{"t":1,"v":0.9},{"t":2,"v":-0.3},{"t":3,"v":0.2},{"t":4,"v":-0.4},{"t":5,"v":0.1},{"t":6,"v":-0.5},{"t":7,"v":0.3},{"t":7.6,"v":1.0},{"t":8.3,"v":-0.2},{"t":9,"v":0.3},{"t":10,"v":-0.4},{"t":11,"v":0.1},{"t":12,"v":-0.3},{"t":13,"v":0.2},{"t":14,"v":-0.5},{"t":15,"v":0.0},{"t":16,"v":-0.3},{"t":17,"v":0.2},{"t":18,"v":-0.2},{"t":19,"v":0.4},{"t":20,"v":-0.1},{"t":21,"v":0.3},{"t":22,"v":-0.2},{"t":22.8,"v":1.1},{"t":23.5,"v":-0.1},{"t":24.5,"v":0.5},{"t":25.5,"v":0.0},{"t":26.5,"v":0.4},{"t":27.5,"v":-0.2},{"t":28.5,"v":0.3},{"t":29.5,"v":0.1},{"t":30.5,"v":0.5},{"t":31.5,"v":-0.1},{"t":32.5,"v":0.3},{"t":33.5,"v":0.0},{"t":34.5,"v":0.4},{"t":35.9,"v":0.0},{"t":37.0,"v":10.7},{"t":37.8,"v":0.0},{"t":38.5,"v":-0.4},{"t":39.5,"v":0.3},{"t":40.5,"v":-0.3},{"t":41.5,"v":0.2},{"t":42.5,"v":-0.2},{"t":43.5,"v":0.3},{"t":44.5,"v":-0.1},{"t":45.5,"v":0.1},{"t":46.5,"v":-0.3},{"t":47.5,"v":0.4},{"t":48.5,"v":-0.2},{"t":49.5,"v":0.2},{"t":50.5,"v":-0.1},{"t":51.5,"v":0.3},{"t":52.5,"v":-0.2},{"t":53.5,"v":1.1},{"t":54.5,"v":0.0},{"t":55.5,"v":0.4},{"t":56.5,"v":-0.1},{"t":57.5,"v":0.3},{"t":58.5,"v":1.2},{"t":59.5,"v":0.1},{"t":60.5,"v":0.4},{"t":61.5,"v":-0.1},{"t":62.5,"v":0.6},{"t":63.5,"v":0.2},{"t":64.5,"v":1.2},{"t":65.5,"v":0.1},{"t":66.5,"v":0.5},{"t":67.5,"v":-0.1},{"t":68.5,"v":0.3},{"t":69.5,"v":0.0},{"t":70.5,"v":0.4},{"t":71.5,"v":-0.2},{"t":72.5,"v":0.2},{"t":73.5,"v":-0.5},{"t":74.5,"v":0.1},{"t":75.5,"v":-0.3},{"t":76.5,"v":0.2},{"t":77.5,"v":-0.1},{"t":78.5,"v":0.5},{"t":79.5,"v":-0.2},{"t":80.5,"v":0.3},{"t":81.5,"v":0.0},{"t":82.5,"v":0.4},{"t":83.5,"v":-0.1},{"t":84.5,"v":0.6},{"t":85.5,"v":0.1},{"t":86.5,"v":0.4},{"t":87.5,"v":-0.1},{"t":88.5,"v":0.3},{"t":89.8,"v":-0.2},{"t":90.8,"v":12.5},{"t":91.5,"v":9.1},{"t":92.2,"v":-0.2},{"t":93,"v":0.5},{"t":94,"v":0.0},{"t":94.9,"v":0.7},{"t":95.8,"v":0.0},{"t":96.8,"v":0.5},{"t":97.8,"v":-0.3},{"t":98.8,"v":0.4},{"t":100,"v":1.8},{"t":101.4,"v":0.5},{"t":102.2,"v":0.1},{"t":102.9,"v":0.2},{"t":103.6,"v":2.0},{"t":103.9,"v":13.2},{"t":104.8,"v":15.5},{"t":105.3,"v":14.5},{"t":105.9,"v":0.5},{"t":106.5,"v":15.2},{"t":107.5,"v":15.5},{"t":108.7,"v":14.1},{"t":109.4,"v":10.9},{"t":109.7,"v":6.4},{"t":110.3,"v":14.5},{"t":110.9,"v":15.5},{"t":111.4,"v":14.8},{"t":111.9,"v":16.5},{"t":112.6,"v":14.5},{"t":113.2,"v":7.7},{"t":113.6,"v":10.9},{"t":114.2,"v":13.2},{"t":114.9,"v":8.6},{"t":115.7,"v":0.5},{"t":116.1,"v":0.0},{"t":117,"v":0.3},{"t":118.4,"v":1.6},{"t":119.2,"v":0.1},{"t":120,"v":0.4},{"t":121,"v":-0.2},{"t":122,"v":0.5},{"t":123,"v":0.1},{"t":124,"v":0.6},{"t":125,"v":-0.1},{"t":126,"v":0.3},{"t":127,"v":-0.2},{"t":128,"v":0.4},{"t":129,"v":0.0},{"t":130,"v":0.5},{"t":131,"v":-0.2},{"t":132,"v":0.2},{"t":133,"v":-0.3},{"t":134,"v":0.3},{"t":135,"v":-0.4},{"t":136,"v":0.1},{"t":137,"v":-0.2},{"t":138,"v":0.4},{"t":139,"v":-0.3},{"t":140,"v":-0.8},{"t":141,"v":0.1},{"t":142,"v":-0.4},{"t":143,"v":0.3},{"t":144,"v":-0.2},{"t":145,"v":0.2},{"t":146,"v":-0.5},{"t":147,"v":0.1},{"t":148,"v":-0.3},{"t":149,"v":0.4},{"t":150,"v":-0.2},{"t":151,"v":0.3},{"t":152,"v":-0.3},{"t":153,"v":0.5},{"t":154,"v":-0.1},{"t":155,"v":0.2},{"t":156,"v":-0.4},{"t":157,"v":0.3},{"t":158,"v":-0.2},{"t":159,"v":0.4},{"t":160,"v":0.1}],
"w3n": [{"k":"L","t":155.4,"v":-5.56,"o":1},{"k":"L","t":145.4,"v":-5.56,"o":2},{"k":"L","t":145.4,"v":-10.56,"o":3},{"k":"lab","t":161.5,"v":-4.79,"s":"10 ms"},{"k":"lab","t":143.3,"v":-8.99,"s":"5pA"}],
"hb": [{"a":-0.6,"n":5},{"a":-0.4,"n":20},{"a":-0.2,"n":65},{"a":0,"n":89},{"a":0.2,"n":54},{"a":0.4,"n":14},{"a":0.6,"n":9},{"a":0.8,"n":3},{"a":1.0,"n":2},{"a":1.2,"n":2},{"a":1.4,"n":4},{"a":1.6,"n":2},{"a":1.8,"n":6},{"a":2.0,"n":3},{"a":2.2,"n":2},{"a":2.4,"n":2},{"a":2.6,"n":3},{"a":2.8,"n":3},{"a":3.0,"n":1},{"a":3.2,"n":1},{"a":3.4,"n":1},{"a":3.6,"n":1},{"a":3.8,"n":1},{"a":4.0,"n":9},{"a":4.2,"n":16},{"a":4.4,"n":8},{"a":4.6,"n":13},{"a":4.8,"n":7},{"a":5.0,"n":11},{"a":5.2,"n":2},{"a":5.4,"n":10},{"a":5.6,"n":9},{"a":5.8,"n":6},{"a":6.0,"n":12},{"a":6.2,"n":9},{"a":6.4,"n":6},{"a":6.6,"n":4},{"a":6.8,"n":6},{"a":7.0,"n":5},{"a":7.2,"n":4},{"a":7.4,"n":11},{"a":7.6,"n":12},{"a":7.8,"n":9},{"a":8.0,"n":11},{"a":8.2,"n":10},{"a":8.4,"n":14},{"a":8.6,"n":16},{"a":8.8,"n":13},{"a":9.0,"n":14},{"a":9.2,"n":14},{"a":9.4,"n":13},{"a":9.6,"n":11},{"a":9.8,"n":16},{"a":10.0,"n":10},{"a":10.2,"n":10},{"a":10.4,"n":9},{"a":10.6,"n":6},{"a":10.8,"n":6},{"a":11.0,"n":11},{"a":11.2,"n":9},{"a":11.4,"n":5},{"a":11.6,"n":3},{"a":11.8,"n":1},{"a":12.0,"n":1},{"a":12.4,"n":1},{"a":12.6,"n":9},{"a":12.8,"n":10},{"a":13.0,"n":12},{"a":13.2,"n":8},{"a":13.4,"n":9},{"a":13.6,"n":8},{"a":13.8,"n":9},{"a":14.0,"n":9},{"a":14.2,"n":7},{"a":14.4,"n":6},{"a":14.6,"n":5},{"a":14.8,"n":4},{"a":15.0,"n":4},{"a":15.2,"n":2},{"a":15.4,"n":1},{"a":15.6,"n":2},{"a":15.8,"n":4},{"a":16.0,"n":3}],
"ho": [{"a":-1.6,"n":1},{"a":-1.4,"n":1},{"a":-1.2,"n":4},{"a":-1.0,"n":20},{"a":-0.8,"n":37},{"a":-0.6,"n":76},{"a":-0.4,"n":152},{"a":-0.2,"n":289},{"a":0,"n":280},{"a":0.2,"n":176},{"a":0.4,"n":116},{"a":0.6,"n":55},{"a":0.8,"n":37},{"a":1.0,"n":23},{"a":1.2,"n":20},{"a":1.4,"n":13},{"a":1.6,"n":13},{"a":1.8,"n":9},{"a":2.0,"n":13},{"a":2.2,"n":11},{"a":2.4,"n":9},{"a":2.6,"n":9},{"a":2.8,"n":11},{"a":3.0,"n":13},{"a":3.2,"n":7},{"a":3.4,"n":11},{"a":3.6,"n":18},{"a":3.8,"n":22},{"a":4.0,"n":28},{"a":4.2,"n":28},{"a":4.4,"n":26},{"a":4.6,"n":35},{"a":4.8,"n":37},{"a":5.0,"n":34},{"a":5.2,"n":38},{"a":5.4,"n":41},{"a":5.6,"n":38},{"a":5.8,"n":48},{"a":6.0,"n":45},{"a":6.2,"n":47},{"a":6.4,"n":41},{"a":6.6,"n":40},{"a":6.8,"n":49},{"a":7.0,"n":40},{"a":7.2,"n":56},{"a":7.4,"n":58},{"a":7.6,"n":48},{"a":7.8,"n":65},{"a":8.0,"n":60},{"a":8.2,"n":51},{"a":8.4,"n":55},{"a":8.6,"n":56},{"a":8.8,"n":45},{"a":9.0,"n":53},{"a":9.2,"n":45},{"a":9.4,"n":53},{"a":9.6,"n":45},{"a":9.8,"n":34},{"a":10.0,"n":52},{"a":10.2,"n":32},{"a":10.4,"n":37},{"a":10.6,"n":37},{"a":10.8,"n":28},{"a":11.0,"n":28},{"a":11.2,"n":15},{"a":11.4,"n":13},{"a":11.6,"n":20},{"a":11.8,"n":6},{"a":12.0,"n":4},{"a":12.2,"n":7},{"a":12.4,"n":10},{"a":12.6,"n":14},{"a":12.8,"n":19},{"a":13.0,"n":14},{"a":13.2,"n":19},{"a":13.4,"n":12},{"a":13.6,"n":12},{"a":13.8,"n":8},{"a":14.0,"n":12},{"a":14.2,"n":5},{"a":14.4,"n":6},{"a":14.6,"n":3},{"a":14.8,"n":1},{"a":15.0,"n":2},{"a":15.2,"n":4},{"a":15.4,"n":3},{"a":15.6,"n":2},{"a":15.8,"n":2},{"a":16.0,"n":1},{"a":16.2,"n":1},{"a":16.4,"n":1},{"a":16.6,"n":1},{"a":17.0,"n":1},{"a":17.4,"n":1},{"a":18.0,"n":1},{"a":18.8,"n":1},{"a":20.2,"n":1},{"a":20.4,"n":1},{"a":22.2,"n":1},{"a":24.8,"n":1}],
"hw": [{"a":-1.6,"n":1},{"a":-0.8,"n":7},{"a":-0.6,"n":13},{"a":-0.4,"n":37},{"a":-0.2,"n":70},{"a":0,"n":90},{"a":0.2,"n":38},{"a":0.4,"n":19},{"a":0.6,"n":15},{"a":0.8,"n":11},{"a":1.0,"n":10},{"a":1.2,"n":4},{"a":1.4,"n":5},{"a":1.6,"n":10},{"a":1.8,"n":7},{"a":2.0,"n":3},{"a":2.2,"n":2},{"a":2.4,"n":4},{"a":2.6,"n":2},{"a":2.8,"n":3},{"a":3.0,"n":1},{"a":3.2,"n":3},{"a":3.4,"n":1},{"a":3.6,"n":3},{"a":3.8,"n":2},{"a":4.0,"n":12},{"a":4.2,"n":11},{"a":4.4,"n":6},{"a":4.6,"n":11},{"a":4.8,"n":3},{"a":5.0,"n":8},{"a":5.2,"n":5},{"a":5.4,"n":6},{"a":5.6,"n":4},{"a":5.8,"n":6},{"a":6.0,"n":11},{"a":6.2,"n":14},{"a":6.4,"n":17},{"a":6.6,"n":13},{"a":6.8,"n":7},{"a":7.0,"n":18},{"a":7.2,"n":8},{"a":7.4,"n":9},{"a":7.6,"n":16},{"a":7.8,"n":16},{"a":8.0,"n":17},{"a":8.2,"n":16},{"a":8.4,"n":26},{"a":8.6,"n":18},{"a":8.8,"n":22},{"a":9.0,"n":20},{"a":9.2,"n":22},{"a":9.4,"n":21},{"a":9.6,"n":11},{"a":9.8,"n":14},{"a":10.0,"n":22},{"a":10.2,"n":12},{"a":10.4,"n":15},{"a":10.6,"n":10},{"a":10.8,"n":10},{"a":11.0,"n":7},{"a":11.2,"n":5},{"a":11.4,"n":5},{"a":11.6,"n":1},{"a":11.8,"n":3},{"a":12.0,"n":2},{"a":12.4,"n":10},{"a":12.6,"n":14},{"a":12.8,"n":17},{"a":13.0,"n":25},{"a":13.2,"n":12},{"a":13.4,"n":13},{"a":13.6,"n":11},{"a":13.8,"n":12},{"a":14.0,"n":10},{"a":14.2,"n":4},{"a":14.4,"n":4},{"a":14.6,"n":6},{"a":14.8,"n":2},{"a":15.0,"n":1},{"a":15.4,"n":1}],
"sp": [{"z":0}]
},
"spacing": -58,
"vconcat": [
{
"concat": [
{"width": 440, "height": 330,
 "title": {"text": "Basal", "font": "Open Sans", "fontSize": 31, "fontWeight": "bold", "color": "black", "frame": "group", "anchor": "middle", "offset": -63, "dx": 7.5},
 "layer": [
  {"data": {"name": "b1b"}, "mark": {"type": "area", "color": "black", "interpolate": "step"}, "encoding": {"x": {"field": "t", "type": "quantitative", "axis": null, "scale": {"domain": [-365, 5310], "nice": false, "zero": false}}, "y": {"field": "l", "type": "quantitative", "axis": null, "scale": {"domain": [-14.17, 31.67], "nice": false, "zero": false}}, "y2": {"field": "h"}}},
  {"data": {"name": "b1s"}, "mark": {"type": "rule", "color": "black", "strokeWidth": 1.3}, "encoding": {"x": {"field": "t", "type": "quantitative"}, "y": {"field": "a", "type": "quantitative"}, "y2": {"datum": 0}}},
  {"data": {"name": "b1n"}, "transform": [{"filter": "datum.k == 'seg'"}], "mark": {"type": "rule", "color": "black", "strokeWidth": 2.6}, "encoding": {"x": {"field": "t", "type": "quantitative"}, "x2": {"field": "t2"}, "y": {"field": "v", "type": "quantitative"}}},
  {"data": {"name": "b1n"}, "transform": [{"filter": "datum.k == 'L'"}], "mark": {"type": "line", "color": "black", "strokeWidth": 2.2}, "encoding": {"x": {"field": "t", "type": "quantitative"}, "y": {"field": "v", "type": "quantitative"}, "order": {"field": "o", "type": "quantitative"}}},
  {"data": {"name": "b1n"}, "transform": [{"filter": "datum.k == 'lab'"}], "mark": {"type": "text", "align": "right", "baseline": "alphabetic", "font": "Liberation Sans", "fontWeight": "bold", "fontSize": 16, "color": "black"}, "encoding": {"x": {"field": "t", "type": "quantitative"}, "y": {"field": "v", "type": "quantitative"}, "text": {"field": "s", "type": "nominal"}}},
  {"data": {"name": "b1n"}, "transform": [{"filter": "datum.k == 'arr'"}], "mark": {"type": "line", "color": "#cccccc", "strokeWidth": 2.6, "strokeDash": [9, 6]}, "encoding": {"x": {"field": "t", "type": "quantitative"}, "y": {"field": "v", "type": "quantitative"}, "order": {"field": "o", "type": "quantitative"}}},
  {"data": {"name": "b1n"}, "transform": [{"filter": "datum.k == 'arr' && datum.o == 2"}], "mark": {"type": "point", "shape": "M-1,-1L0,0L-1,1", "filled": false, "color": "#cccccc", "strokeWidth": 2.6, "size": 400, "angle": 43, "opacity": 1}, "encoding": {"x": {"field": "t", "type": "quantitative"}, "y": {"field": "v", "type": "quantitative"}}}
 ]},
{"width": 440, "height": 330,
 "title": {"text": "Borneol", "font": "Open Sans", "fontSize": 31, "fontWeight": "bold", "color": "black", "frame": "group", "anchor": "middle", "offset": -63, "dx": 4},
 "layer": [
  {"data": {"name": "o1b"}, "mark": {"type": "area", "color": "black", "interpolate": "step"}, "encoding": {"x": {"field": "t", "type": "quantitative", "axis": null, "scale": {"domain": [-353, 5332], "nice": false, "zero": false}}, "y": {"field": "l", "type": "quantitative", "axis": null, "scale": {"domain": [-13.89, 31.94], "nice": false, "zero": false}}, "y2": {"field": "h"}}},
  {"data": {"name": "o1s"}, "mark": {"type": "rule", "color": "black", "strokeWidth": 1.2}, "encoding": {"x": {"field": "t", "type": "quantitative"}, "y": {"field": "a", "type": "quantitative"}, "y2": {"datum": 0}}},
  {"data": {"name": "o1n"}, "transform": [{"filter": "datum.k == 'seg'"}], "mark": {"type": "rule", "color": "black", "strokeWidth": 2.6}, "encoding": {"x": {"field": "t", "type": "quantitative"}, "x2": {"field": "t2"}, "y": {"field": "v", "type": "quantitative"}}},
  {"data": {"name": "o1n"}, "transform": [{"filter": "datum.k == 'L'"}], "mark": {"type": "line", "color": "black", "strokeWidth": 2.2}, "encoding": {"x": {"field": "t", "type": "quantitative"}, "y": {"field": "v", "type": "quantitative"}, "order": {"field": "o", "type": "quantitative"}}},
  {"data": {"name": "o1n"}, "transform": [{"filter": "datum.k == 'lab'"}], "mark": {"type": "text", "align": "right", "baseline": "alphabetic", "font": "Liberation Sans", "fontWeight": "bold", "fontSize": 16, "color": "black"}, "encoding": {"x": {"field": "t", "type": "quantitative"}, "y": {"field": "v", "type": "quantitative"}, "text": {"field": "s", "type": "nominal"}}},
  {"data": {"name": "o1n"}, "transform": [{"filter": "datum.k == 'arr'"}], "mark": {"type": "line", "color": "#cccccc", "strokeWidth": 2.6, "strokeDash": [9, 6]}, "encoding": {"x": {"field": "t", "type": "quantitative"}, "y": {"field": "v", "type": "quantitative"}, "order": {"field": "o", "type": "quantitative"}}},
  {"data": {"name": "o1n"}, "transform": [{"filter": "datum.k == 'arr' && datum.o == 2"}], "mark": {"type": "point", "shape": "M-1,-1L0,0L-1,1", "filled": false, "color": "#cccccc", "strokeWidth": 2.6, "size": 400, "angle": 145, "opacity": 1}, "encoding": {"x": {"field": "t", "type": "quantitative"}, "y": {"field": "v", "type": "quantitative"}}}
 ]},
{"width": 431, "height": 330,
 "title": {"text": "Washout", "font": "Open Sans", "fontSize": 31, "fontWeight": "bold", "color": "black", "frame": "group", "anchor": "middle", "offset": -63, "dx": 0},
 "layer": [
  {"data": {"name": "w1b"}, "mark": {"type": "area", "color": "black", "interpolate": "step"}, "encoding": {"x": {"field": "t", "type": "quantitative", "axis": null, "scale": {"domain": [-336, 5229], "nice": false, "zero": false}}, "y": {"field": "l", "type": "quantitative", "axis": null, "scale": {"domain": [-14.17, 31.67], "nice": false, "zero": false}}, "y2": {"field": "h"}}},
  {"data": {"name": "w1s"}, "mark": {"type": "rule", "color": "black", "strokeWidth": 1.3}, "encoding": {"x": {"field": "t", "type": "quantitative"}, "y": {"field": "a", "type": "quantitative"}, "y2": {"datum": 0}}},
  {"data": {"name": "w1n"}, "transform": [{"filter": "datum.k == 'seg'"}], "mark": {"type": "rule", "color": "black", "strokeWidth": 2.6}, "encoding": {"x": {"field": "t", "type": "quantitative"}, "x2": {"field": "t2"}, "y": {"field": "v", "type": "quantitative"}}},
  {"data": {"name": "w1n"}, "transform": [{"filter": "datum.k == 'L'"}], "mark": {"type": "line", "color": "black", "strokeWidth": 2.2}, "encoding": {"x": {"field": "t", "type": "quantitative"}, "y": {"field": "v", "type": "quantitative"}, "order": {"field": "o", "type": "quantitative"}}},
  {"data": {"name": "w1n"}, "transform": [{"filter": "datum.k == 'lab'"}], "mark": {"type": "text", "align": "right", "baseline": "alphabetic", "font": "Liberation Sans", "fontWeight": "bold", "fontSize": 16, "color": "black"}, "encoding": {"x": {"field": "t", "type": "quantitative"}, "y": {"field": "v", "type": "quantitative"}, "text": {"field": "s", "type": "nominal"}}},
  {"data": {"name": "w1n"}, "transform": [{"filter": "datum.k == 'arr'"}], "mark": {"type": "line", "color": "#cccccc", "strokeWidth": 2.6, "strokeDash": [9, 6]}, "encoding": {"x": {"field": "t", "type": "quantitative"}, "y": {"field": "v", "type": "quantitative"}, "order": {"field": "o", "type": "quantitative"}}},
  {"data": {"name": "w1n"}, "transform": [{"filter": "datum.k == 'arr' && datum.o == 2"}], "mark": {"type": "point", "shape": "M-1,-1L0,0L-1,1", "filled": false, "color": "#cccccc", "strokeWidth": 2.6, "size": 400, "angle": 53, "opacity": 1}, "encoding": {"x": {"field": "t", "type": "quantitative"}, "y": {"field": "v", "type": "quantitative"}}}
 ]},
{"width": 440, "height": 250,
 "layer": [
  {"data": {"name": "b2b"}, "mark": {"type": "area", "color": "black", "interpolate": "step"}, "encoding": {"x": {"field": "t", "type": "quantitative", "axis": null, "scale": {"domain": [-75, 966.6], "nice": false, "zero": false}}, "y": {"field": "l", "type": "quantitative", "axis": null, "scale": {"domain": [-12.8, 20.53], "nice": false, "zero": false}}, "y2": {"field": "h"}}},
  {"data": {"name": "b2s"}, "mark": {"type": "rule", "color": "black", "strokeWidth": 1.6}, "encoding": {"x": {"field": "t", "type": "quantitative"}, "y": {"field": "a", "type": "quantitative"}, "y2": {"datum": 0}}},
  {"data": {"name": "b2n"}, "transform": [{"filter": "datum.k == 'seg'"}], "mark": {"type": "rule", "color": "black", "strokeWidth": 2.6}, "encoding": {"x": {"field": "t", "type": "quantitative"}, "x2": {"field": "t2"}, "y": {"field": "v", "type": "quantitative"}}},
  {"data": {"name": "b2n"}, "transform": [{"filter": "datum.k == 'L'"}], "mark": {"type": "line", "color": "black", "strokeWidth": 2.2}, "encoding": {"x": {"field": "t", "type": "quantitative"}, "y": {"field": "v", "type": "quantitative"}, "order": {"field": "o", "type": "quantitative"}}},
  {"data": {"name": "b2n"}, "transform": [{"filter": "datum.k == 'lab'"}], "mark": {"type": "text", "align": "right", "baseline": "alphabetic", "font": "Liberation Sans", "fontWeight": "bold", "fontSize": 16, "color": "black"}, "encoding": {"x": {"field": "t", "type": "quantitative"}, "y": {"field": "v", "type": "quantitative"}, "text": {"field": "s", "type": "nominal"}}},
  {"data": {"name": "b2n"}, "transform": [{"filter": "datum.k == 'arr'"}], "mark": {"type": "line", "color": "#cccccc", "strokeWidth": 2.6, "strokeDash": [9, 6]}, "encoding": {"x": {"field": "t", "type": "quantitative"}, "y": {"field": "v", "type": "quantitative"}, "order": {"field": "o", "type": "quantitative"}}},
  {"data": {"name": "b2n"}, "transform": [{"filter": "datum.k == 'arr' && datum.o == 2"}], "mark": {"type": "point", "shape": "M-1,-1L0,0L-1,1", "filled": false, "color": "#cccccc", "strokeWidth": 2.6, "size": 400, "angle": 98, "opacity": 1}, "encoding": {"x": {"field": "t", "type": "quantitative"}, "y": {"field": "v", "type": "quantitative"}}}
 ]},
{"width": 440, "height": 250,
 "layer": [
  {"data": {"name": "o2b"}, "mark": {"type": "area", "color": "black", "interpolate": "step"}, "encoding": {"x": {"field": "t", "type": "quantitative", "axis": null, "scale": {"domain": [-120.5, 919.2], "nice": false, "zero": false}}, "y": {"field": "l", "type": "quantitative", "axis": null, "scale": {"domain": [-12.23, 21.1], "nice": false, "zero": false}}, "y2": {"field": "h"}}},
  {"data": {"name": "o2s"}, "mark": {"type": "rule", "color": "black", "strokeWidth": 1.6}, "encoding": {"x": {"field": "t", "type": "quantitative"}, "y": {"field": "a", "type": "quantitative"}, "y2": {"datum": 0}}},
  {"data": {"name": "o2n"}, "transform": [{"filter": "datum.k == 'seg'"}], "mark": {"type": "rule", "color": "black", "strokeWidth": 2.6}, "encoding": {"x": {"field": "t", "type": "quantitative"}, "x2": {"field": "t2"}, "y": {"field": "v", "type": "quantitative"}}},
  {"data": {"name": "o2n"}, "transform": [{"filter": "datum.k == 'L'"}], "mark": {"type": "line", "color": "black", "strokeWidth": 2.2}, "encoding": {"x": {"field": "t", "type": "quantitative"}, "y": {"field": "v", "type": "quantitative"}, "order": {"field": "o", "type": "quantitative"}}},
  {"data": {"name": "o2n"}, "transform": [{"filter": "datum.k == 'lab'"}], "mark": {"type": "text", "align": "right", "baseline": "alphabetic", "font": "Liberation Sans", "fontWeight": "bold", "fontSize": 16, "color": "black"}, "encoding": {"x": {"field": "t", "type": "quantitative"}, "y": {"field": "v", "type": "quantitative"}, "text": {"field": "s", "type": "nominal"}}},
  {"data": {"name": "o2n"}, "transform": [{"filter": "datum.k == 'arr'"}], "mark": {"type": "line", "color": "#cccccc", "strokeWidth": 2.6, "strokeDash": [9, 6]}, "encoding": {"x": {"field": "t", "type": "quantitative"}, "y": {"field": "v", "type": "quantitative"}, "order": {"field": "o", "type": "quantitative"}}},
  {"data": {"name": "o2n"}, "transform": [{"filter": "datum.k == 'arr' && datum.o == 2"}], "mark": {"type": "point", "shape": "M-1,-1L0,0L-1,1", "filled": false, "color": "#cccccc", "strokeWidth": 2.6, "size": 400, "angle": 142, "opacity": 1}, "encoding": {"x": {"field": "t", "type": "quantitative"}, "y": {"field": "v", "type": "quantitative"}}}
 ]},
{"width": 431, "height": 250,
 "layer": [
  {"data": {"name": "w2b"}, "mark": {"type": "area", "color": "black", "interpolate": "step"}, "encoding": {"x": {"field": "t", "type": "quantitative", "axis": null, "scale": {"domain": [-69.4, 951], "nice": false, "zero": false}}, "y": {"field": "l", "type": "quantitative", "axis": null, "scale": {"domain": [-12.89, 20.44], "nice": false, "zero": false}}, "y2": {"field": "h"}}},
  {"data": {"name": "w2s"}, "mark": {"type": "rule", "color": "black", "strokeWidth": 1.6}, "encoding": {"x": {"field": "t", "type": "quantitative"}, "y": {"field": "a", "type": "quantitative"}, "y2": {"datum": 0}}},
  {"data": {"name": "w2n"}, "transform": [{"filter": "datum.k == 'seg'"}], "mark": {"type": "rule", "color": "black", "strokeWidth": 2.6}, "encoding": {"x": {"field": "t", "type": "quantitative"}, "x2": {"field": "t2"}, "y": {"field": "v", "type": "quantitative"}}},
  {"data": {"name": "w2n"}, "transform": [{"filter": "datum.k == 'L'"}], "mark": {"type": "line", "color": "black", "strokeWidth": 2.2}, "encoding": {"x": {"field": "t", "type": "quantitative"}, "y": {"field": "v", "type": "quantitative"}, "order": {"field": "o", "type": "quantitative"}}},
  {"data": {"name": "w2n"}, "transform": [{"filter": "datum.k == 'lab'"}], "mark": {"type": "text", "align": "right", "baseline": "alphabetic", "font": "Liberation Sans", "fontWeight": "bold", "fontSize": 16, "color": "black"}, "encoding": {"x": {"field": "t", "type": "quantitative"}, "y": {"field": "v", "type": "quantitative"}, "text": {"field": "s", "type": "nominal"}}},
  {"data": {"name": "w2n"}, "transform": [{"filter": "datum.k == 'arr'"}], "mark": {"type": "line", "color": "#cccccc", "strokeWidth": 2.6, "strokeDash": [9, 6]}, "encoding": {"x": {"field": "t", "type": "quantitative"}, "y": {"field": "v", "type": "quantitative"}, "order": {"field": "o", "type": "quantitative"}}},
  {"data": {"name": "w2n"}, "transform": [{"filter": "datum.k == 'arr' && datum.o == 2"}], "mark": {"type": "point", "shape": "M-1,-1L0,0L-1,1", "filled": false, "color": "#cccccc", "strokeWidth": 2.6, "size": 400, "angle": 38, "opacity": 1}, "encoding": {"x": {"field": "t", "type": "quantitative"}, "y": {"field": "v", "type": "quantitative"}}}
 ]},
{"width": 440, "height": 291,
 "layer": [
  {"data": {"name": "b3l"}, "mark": {"type": "line", "color": "black", "strokeWidth": 1.8}, "encoding": {"x": {"field": "t", "type": "quantitative", "axis": null, "scale": {"domain": [-16.74, 175.6], "nice": false, "zero": false}}, "y": {"field": "v", "type": "quantitative", "axis": null, "scale": {"domain": [-20.04, 20.37], "nice": false, "zero": false}}}},
  {"data": {"name": "b3n"}, "transform": [{"filter": "datum.k == 'L'"}], "mark": {"type": "line", "color": "black", "strokeWidth": 2.2}, "encoding": {"x": {"field": "t", "type": "quantitative"}, "y": {"field": "v", "type": "quantitative"}, "order": {"field": "o", "type": "quantitative"}}},
  {"data": {"name": "b3n"}, "transform": [{"filter": "datum.k == 'lab'"}], "mark": {"type": "text", "align": "right", "baseline": "alphabetic", "font": "Liberation Sans", "fontWeight": "bold", "fontSize": 16, "color": "black"}, "encoding": {"x": {"field": "t", "type": "quantitative"}, "y": {"field": "v", "type": "quantitative"}, "text": {"field": "s", "type": "nominal"}}}
 ]},
{"width": 440, "height": 291,
 "layer": [
  {"data": {"name": "o3l"}, "mark": {"type": "line", "color": "black", "strokeWidth": 1.8}, "encoding": {"x": {"field": "t", "type": "quantitative", "axis": null, "scale": {"domain": [-16.28, 175.7], "nice": false, "zero": false}}, "y": {"field": "v", "type": "quantitative", "axis": null, "scale": {"domain": [-18.57, 20.23], "nice": false, "zero": false}}}},
  {"data": {"name": "o3n"}, "transform": [{"filter": "datum.k == 'L'"}], "mark": {"type": "line", "color": "black", "strokeWidth": 2.2}, "encoding": {"x": {"field": "t", "type": "quantitative"}, "y": {"field": "v", "type": "quantitative"}, "order": {"field": "o", "type": "quantitative"}}},
  {"data": {"name": "o3n"}, "transform": [{"filter": "datum.k == 'lab'"}], "mark": {"type": "text", "align": "right", "baseline": "alphabetic", "font": "Liberation Sans", "fontWeight": "bold", "fontSize": 16, "color": "black"}, "encoding": {"x": {"field": "t", "type": "quantitative"}, "y": {"field": "v", "type": "quantitative"}, "text": {"field": "s", "type": "nominal"}}}
 ]},
{"width": 431, "height": 291,
 "layer": [
  {"data": {"name": "w3l"}, "mark": {"type": "line", "color": "black", "strokeWidth": 1.8}, "encoding": {"x": {"field": "t", "type": "quantitative", "axis": null, "scale": {"domain": [-15.7, 172.4], "nice": false, "zero": false}}, "y": {"field": "v", "type": "quantitative", "axis": null, "scale": {"domain": [-19.77, 20.1], "nice": false, "zero": false}}}},
  {"data": {"name": "w3n"}, "transform": [{"filter": "datum.k == 'L'"}], "mark": {"type": "line", "color": "black", "strokeWidth": 2.2}, "encoding": {"x": {"field": "t", "type": "quantitative"}, "y": {"field": "v", "type": "quantitative"}, "order": {"field": "o", "type": "quantitative"}}},
  {"data": {"name": "w3n"}, "transform": [{"filter": "datum.k == 'lab'"}], "mark": {"type": "text", "align": "right", "baseline": "alphabetic", "font": "Liberation Sans", "fontWeight": "bold", "fontSize": 16, "color": "black"}, "encoding": {"x": {"field": "t", "type": "quantitative"}, "y": {"field": "v", "type": "quantitative"}, "text": {"field": "s", "type": "nominal"}}}
 ]}
],
"columns": 3,
"spacing": 0,
"align": "each",
"bounds": "flush"
},
{
"hconcat": [
 {"width": 21, "height": 271, "title": {"text": "B", "anchor": "start", "frame": "group", "font": "Liberation Sans", "fontSize": 37, "fontWeight": "bold", "color": "black", "offset": 21, "dx": 13}, "data": {"name": "sp"}, "mark": {"type": "point", "opacity": 0}, "encoding": {"x": {"field": "z", "type": "quantitative", "axis": null}, "y": {"field": "z", "type": "quantitative", "axis": null}}},
 {"width": 367, "height": 271,
  "title": {"text": "Basal", "font": "Open Sans", "fontSize": 31, "fontWeight": "bold", "color": "black", "frame": "group", "anchor": "middle", "offset": -21, "dx": -4.5},
  "data": {"name": "hb"}, "transform": [{"calculate": "datum.a + 0.2", "as": "a2"}],
  "resolve": {"axis": {"x": "independent", "y": "independent"}},
  "layer": [
   {"mark": {"type": "bar", "fill": "#9a9a9a", "stroke": "#1a1a1a", "strokeWidth": 0.6},
    "encoding": {
     "x": {"field": "a", "type": "quantitative", "scale": {"domain": [-2.1, 25.6], "nice": false, "zero": false}, "axis": {"values": [0, 5, 10, 15, 20, 25], "title": "Amplitude (pA)", "labelPadding": 3, "titlePadding": 14}},
     "x2": {"field": "a2"},
     "y": {"field": "n", "type": "quantitative", "scale": {"domain": [0, 300], "nice": false}, "axis": {"values": [0, 50, 100, 150, 200, 250, 300], "title": "Number of Events", "labelPadding": 2, "titlePadding": 7}},
     "y2": {"datum": 0}}},
   {"mark": {"type": "point", "opacity": 0},
    "encoding": {
     "x": {"field": "a", "type": "quantitative", "axis": {"orient": "bottom", "values": [2.5, 7.5, 12.5, 17.5, 22.5], "labels": false, "domain": false, "title": null, "tickSize": 3}},
     "y": {"field": "n", "type": "quantitative", "axis": {"orient": "left", "values": [25, 75, 125, 175, 225, 275], "labels": false, "domain": false, "title": null, "tickSize": 3}}}}
  ]},
 {"width": 367, "height": 271,
  "title": {"text": "Borneol", "font": "Open Sans", "fontSize": 31, "fontWeight": "bold", "color": "black", "frame": "group", "anchor": "middle", "offset": -21, "dx": 4.5},
  "data": {"name": "ho"}, "transform": [{"calculate": "datum.a + 0.2", "as": "a2"}],
  "resolve": {"axis": {"x": "independent", "y": "independent"}},
  "layer": [
   {"mark": {"type": "bar", "fill": "#9a9a9a", "stroke": "#1a1a1a", "strokeWidth": 0.6},
    "encoding": {
     "x": {"field": "a", "type": "quantitative", "scale": {"domain": [-2.1, 25.6], "nice": false, "zero": false}, "axis": {"values": [0, 5, 10, 15, 20, 25], "title": "Amplitude (pA)", "labelPadding": 3, "titlePadding": 14}},
     "x2": {"field": "a2"},
     "y": {"field": "n", "type": "quantitative", "scale": {"domain": [0, 300], "nice": false}, "axis": {"values": [0, 50, 100, 150, 200, 250, 300], "title": "Number of Events", "labelPadding": 2, "titlePadding": 7}},
     "y2": {"datum": 0}}},
   {"mark": {"type": "point", "opacity": 0},
    "encoding": {
     "x": {"field": "a", "type": "quantitative", "axis": {"orient": "bottom", "values": [2.5, 7.5, 12.5, 17.5, 22.5], "labels": false, "domain": false, "title": null, "tickSize": 3}},
     "y": {"field": "n", "type": "quantitative", "axis": {"orient": "left", "values": [25, 75, 125, 175, 225, 275], "labels": false, "domain": false, "title": null, "tickSize": 3}}}}
  ]},
 {"width": 367, "height": 271,
  "title": {"text": "Washout", "font": "Open Sans", "fontSize": 31, "fontWeight": "bold", "color": "black", "frame": "group", "anchor": "middle", "offset": -21, "dx": 1},
  "data": {"name": "hw"}, "transform": [{"calculate": "datum.a + 0.2", "as": "a2"}],
  "resolve": {"axis": {"x": "independent", "y": "independent"}},
  "layer": [
   {"mark": {"type": "bar", "fill": "#9a9a9a", "stroke": "#1a1a1a", "strokeWidth": 0.6},
    "encoding": {
     "x": {"field": "a", "type": "quantitative", "scale": {"domain": [-2.1, 25.6], "nice": false, "zero": false}, "axis": {"values": [0, 5, 10, 15, 20, 25], "title": "Amplitude (pA)", "labelPadding": 3, "titlePadding": 14}},
     "x2": {"field": "a2"},
     "y": {"field": "n", "type": "quantitative", "scale": {"domain": [0, 300], "nice": false}, "axis": {"values": [0, 50, 100, 150, 200, 250, 300], "title": "Number of Events", "labelPadding": 2, "titlePadding": 7}},
     "y2": {"datum": 0}}},
   {"mark": {"type": "point", "opacity": 0},
    "encoding": {
     "x": {"field": "a", "type": "quantitative", "axis": {"orient": "bottom", "values": [2.5, 7.5, 12.5, 17.5, 22.5], "labels": false, "domain": false, "title": null, "tickSize": 3}},
     "y": {"field": "n", "type": "quantitative", "axis": {"orient": "left", "values": [25, 75, 125, 175, 225, 275], "labels": false, "domain": false, "title": null, "tickSize": 3}}}}
  ]}
],
"spacing": 60,
"bounds": "flush"
}
]
}
